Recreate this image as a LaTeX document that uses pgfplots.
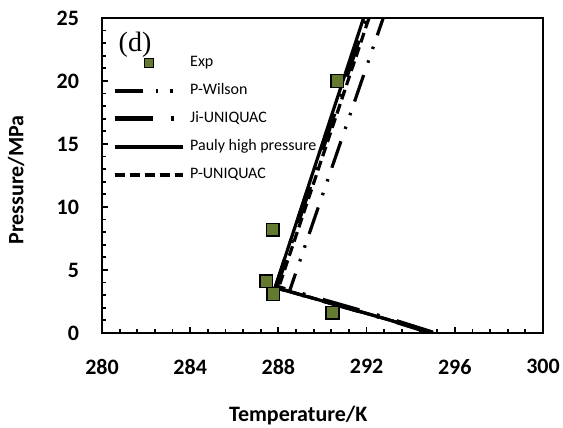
\documentclass[border=0pt]{standalone}
\usepackage{pgfplots}
\pgfplotsset{compat=1.18}
\usepackage{fontspec}
\setmainfont{Carlito}
\newfontfamily\timesf{Liberation Serif}
\definecolor{olivemk}{RGB}{100,122,48}
\pgfplotsset{
  exp legend/.style={legend image code/.code={\draw[black, line width=1.3pt, fill=olivemk] (30pt,-4.5pt) rectangle (39pt,4.5pt);}},
  long legend/.style={legend image code/.code={\draw[##1] (0pt,0pt) -- (68pt,0pt);}},
}
\begin{document}
\begin{tikzpicture}
\useasboundingbox (-102pt,-95pt) rectangle (461pt,333pt);
\begin{axis}[
  at={(0pt,0pt)}, anchor=south west,
  width=441pt, height=315pt, scale only axis,
  xmin=280, xmax=300, ymin=0, ymax=25,
  xtick={280,284,...,300}, ytick={0,5,...,25},
  minor x tick num=4, minor y tick num=4,
  tick align=inside, tick pos=left,
  major tick length=6pt, minor tick length=4pt,
  every tick/.style={black, line width=1.8pt},
  axis line style={line width=2.4pt},
  /pgf/number format/assume math mode=true,
  tick label style={font=\bfseries\fontsize{22}{22}\selectfont},
  xticklabel style={yshift=-22.5pt},
  yticklabel style={xshift=-19.5pt},
  xlabel={\bfseries Temperature/K},
  ylabel={\bfseries Pressure/MPa},
  label style={font=\bfseries\fontsize{22}{22}\selectfont},
  xlabel style={at={(axis description cs:0.445,0)}, anchor=base, yshift=-89pt},
  ylabel style={at={(axis description cs:-0.1785,0.486)}, anchor=base},
  legend style={draw=none, fill=none, at={(axis description cs:0.0227,0.88)}, anchor=north west,
    font=\fontsize{16}{16}\selectfont, inner sep=0pt, row sep=14pt,
    nodes={inner sep=0pt, text height=11pt, text depth=3pt},
    /tikz/every odd column/.append style={column sep=5pt}},
  legend cell align=left,
]
\addplot[only marks, mark=square*, mark size=6.4pt, mark options={fill=olivemk, draw=black, line width=1.5pt}, exp legend]
  coordinates {(287.45,4.1) (287.77,3.1) (287.74,8.2) (290.46,1.6) (290.67,20.0)};
\addlegendentry{Exp}
\addplot[black, line width=3.2pt, dash pattern=on 28pt off 13pt on 2.5pt off 12pt on 2.5pt off 12pt, long legend]
  coordinates {(295.0,0) (293,1.05) (290.5,2.3) (288.5,3.3) (292.95,26)};
\addlegendentry{P-Wilson}
\addplot[black, line width=5pt, dash pattern=on 38pt off 18pt on 3pt off 18pt, long legend]
  coordinates {(295.0,0) (293,1.1) (290.5,2.35) (287.9,3.65) (292.15,26)};
\addlegendentry{Ji-UNIQUAC}
\addplot[black, line width=3.2pt, long legend]
  coordinates {(295.0,0) (293,1.05) (290.5,2.3) (287.85,3.6) (292.05,26)};
\addlegendentry{Pauly high pressure}
\addplot[black, line width=3.2pt, dash pattern=on 10pt off 5pt, long legend]
  coordinates {(295.0,0) (293,1.05) (290.5,2.3) (288.0,3.55) (292.3,26)};
\addlegendentry{P-UNIQUAC}
\node[font=\timesf\fontsize{28}{28}\selectfont, inner sep=0pt] at (axis cs:281.5,22.85) {(d)};
\end{axis}
\end{tikzpicture}
\end{document}
